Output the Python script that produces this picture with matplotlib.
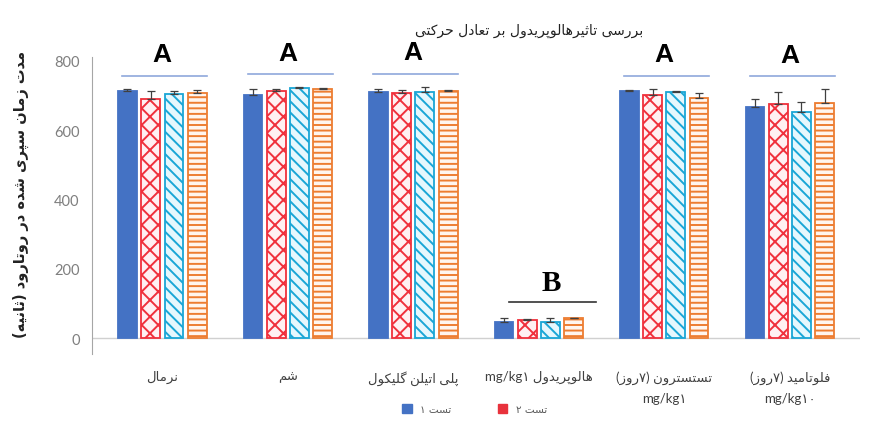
import numpy as np
import matplotlib
matplotlib.use("Agg")
import matplotlib.pyplot as plt
from matplotlib.patches import Patch

# Arabic presentation forms: (isolated, final, initial, medial)
FORMS = {
    'ا': ('\uFE8D', '\uFE8E'), 'ب': ('\uFE8F', '\uFE90', '\uFE91', '\uFE92'),
    'پ': ('\uFB56', '\uFB57', '\uFB58', '\uFB59'), 'ت': ('\uFE95', '\uFE96', '\uFE97', '\uFE98'),
    'ث': ('\uFE99', '\uFE9A', '\uFE9B', '\uFE9C'), 'ح': ('\uFEA1', '\uFEA2', '\uFEA3', '\uFEA4'),
    'د': ('\uFEA9', '\uFEAA'), 'ر': ('\uFEAD', '\uFEAE'), 'ز': ('\uFEAF', '\uFEB0'),
    'س': ('\uFEB1', '\uFEB2', '\uFEB3', '\uFEB4'), 'ش': ('\uFEB5', '\uFEB6', '\uFEB7', '\uFEB8'),
    'ع': ('\uFEC9', '\uFECA', '\uFECB', '\uFECC'), 'ف': ('\uFED1', '\uFED2', '\uFED3', '\uFED4'),
    'ک': ('\uFB8E', '\uFB8F', '\uFB90', '\uFB91'), 'گ': ('\uFB92', '\uFB93', '\uFB94', '\uFB95'),
    'ل': ('\uFEDD', '\uFEDE', '\uFEDF', '\uFEE0'), 'م': ('\uFEE1', '\uFEE2', '\uFEE3', '\uFEE4'),
    'ن': ('\uFEE5', '\uFEE6', '\uFEE7', '\uFEE8'), 'و': ('\uFEED', '\uFEEE'),
    'ه': ('\uFEE9', '\uFEEA', '\uFEEB', '\uFEEC'), 'ی': ('\uFBFC', '\uFBFD', '\uFBFE', '\uFBFF'),
}


def shape_word(w):
    # join letters, then flip to visual order
    out = []
    for i, ch in enumerate(w):
        if ch not in FORMS:
            out.append(ch)
            continue
        f = FORMS[ch]
        prev = i > 0 and w[i - 1] in FORMS and len(FORMS[w[i - 1]]) == 4
        nxt = len(f) == 4 and i + 1 < len(w) and w[i + 1] in FORMS
        if prev and nxt:
            out.append(f[3])
        elif prev:
            out.append(f[1])
        elif nxt:
            out.append(f[2])
        else:
            out.append(f[0])
    s = ''.join(out[::-1])
    return s.translate(str.maketrans('()', ')('))


def fa(text):
    words = [shape_word(w) for w in text.split(' ')]
    return ' '.join(words[::-1])


title = 'بررسی تاثیرهالوپریدول بر تعادل حرکتی'
ylabel = 'مدت زمان سپری شده در روتارود (ثانیه)'
categories = [
    fa('نرمال'),
    fa('شم'),
    fa('پلی اتیلن گلیکول'),
    'mg/kg۱ ' + fa('هالوپریدول'),
    fa('تستسترون (۷روز)') + '\nmg/kg۱',
    fa('فلوتامید (۷روز)') + '\nmg/kg۱۰',
]
series_names = [fa('تست ۱'), fa('تست ۲'), fa('تست ۳'), fa('تست ۴')]

test1 = [714, 701, 710, 45, 714, 666]
test2 = [690, 714, 707, 52, 701, 675]
test3 = [704, 720, 710, 45, 709, 651]
test4 = [707, 718, 713, 57, 692, 677]
err1 = [5, 18, 8, 12, 3, 24]
err2 = [22, 4, 10, 3, 18, 34]
err3 = [10, 3, 15, 12, 5, 29]
err4 = [10, 2, 3, 2, 15, 41]
groups = ['A', 'A', 'A', 'B', 'A', 'A']

plt.rcParams['hatch.linewidth'] = 1.4
fig = plt.figure(figsize=(8.74, 4.27), dpi=100)
ax = fig.add_axes([0.1053, 0.1695, 0.8787, 0.694])

x = np.arange(len(categories))
w = 0.15
step = 0.185
styles = [
    dict(color='#4472C4', edgecolor='#4472C4'),
    dict(color='#FFF0F2', edgecolor='#F0303C', hatch='xx'),
    dict(color='#E6F7FD', edgecolor='#1AA6D6', hatch='\\\\\\'),
    dict(color='#FFF5EE', edgecolor='#ED7D31', hatch='---'),
]
vals = [test1, test2, test3, test4]
errs = [err1, err2, err3, err4]
for k in range(4):
    xs = x + (k - 1.5) * step
    ax.bar(xs, vals[k], w, linewidth=1.3, label=series_names[k], zorder=2, **styles[k])
    ax.errorbar(xs, vals[k], yerr=[np.zeros(len(x)), errs[k]], fmt='none',
                ecolor='#404040', elinewidth=0.9, capsize=3, capthick=0.9, zorder=3)

# significance letters and bars
tops = np.max(np.array(vals) + np.array(errs), axis=0)
for i, g in enumerate(groups):
    ly = tops[i] + 38
    if g == 'B':
        ax.plot([x[i] - 0.24, x[i] + 0.46], [ly + 8, ly + 8], color='#333333', lw=1.2)
        ax.text(x[i] + 0.1, ly + 62, g, ha='center', va='center', fontsize=21,
                fontweight='bold', family='Liberation Serif')
    else:
        ax.plot([x[i] - 0.32, x[i] + 0.36], [ly, ly], color='#8FA8DC', lw=1.2)
        ax.text(x[i], ly + 62, g, ha='center', va='center', fontsize=19,
                fontweight='bold', family='Liberation Sans')

ax.axhline(0, color='#D0D0D0', lw=1, zorder=1)
ax.set_xlim(-0.56, 5.56)
ax.set_ylim(-45, 810)
ax.set_yticks([0, 200, 400, 600, 800])
ax.tick_params(axis='y', length=0, pad=9, labelsize=10.5, labelcolor='#7F7F7F')
for t in ax.get_yticklabels():
    t.set_family('Lato')
ax.set_xticks(x)
ax.set_xticklabels(categories, family=['Lato', 'DejaVu Sans'], fontsize=9.5,
                   color='#404040', linespacing=1.8)
ax.tick_params(axis='x', length=0, pad=12)
for s in ['top', 'right', 'bottom']:
    ax.spines[s].set_visible(False)
ax.spines['left'].set_color('#A6A6A6')

fig.text(0.605, 0.928, fa(title), ha='center', va='center',
         fontsize=10, color='#222222')
fig.text(0.024, 0.545, fa(ylabel), rotation=90, ha='center', va='center',
         fontsize=10.5, fontweight='bold', color='#222222')

handles = [Patch(**styles[0]),
           Patch(facecolor='#E8323C', edgecolor='#E8323C', linewidth=1)]
fig.legend(handles, series_names[:2], loc='center', bbox_to_anchor=(0.543, 0.04),
           ncol=2, frameon=False, fontsize=7.5, handlelength=0.9, handleheight=0.9,
           columnspacing=4.5, labelcolor='#595959')

fig.savefig('out.png', dpi=100)
